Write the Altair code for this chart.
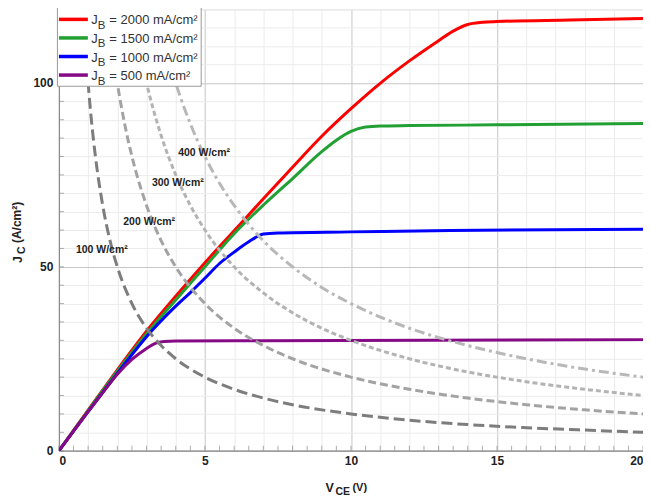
import altair as alt
import pandas as pd

# ---------------- data ----------------
V_2000 = [0, 1, 2, 3, 4, 5, 6, 7, 8, 9, 10, 11, 12, 13, 13.5, 14, 14.5, 15, 17.5, 20]
J_2000 = [0, 11, 22, 32.5, 42, 51.1, 59.8, 68.5, 77.1, 85.5, 93, 99.9, 106, 111.5, 114.1, 115.9, 116.5, 116.7, 117.1, 117.5]

V_1500 = [0, 1, 2, 3, 4, 5, 6, 7, 8, 9, 9.5, 10, 10.5, 11, 12, 15, 20]
J_1500 = [0, 10.9, 21.6, 31.8, 41, 50, 59, 66.8, 74, 81.3, 84.4, 86.8, 88, 88.3, 88.4, 88.6, 89]

V_1000 = [0, 1, 2, 3, 4, 4.5, 5, 5.5, 6, 6.5, 7, 7.5, 10, 13.4, 20]
J_1000 = [0, 10.6, 21, 31, 39.3, 43, 46.9, 50.9, 54, 56.8, 58.9, 59.2, 59.5, 59.9, 60.2]

V_500 = [0, 1, 1.5, 2, 2.5, 3, 3.3, 3.6, 4, 7, 20]
J_500 = [0, 10.6, 15.8, 20.8, 24.8, 27.8, 29.2, 29.7, 29.8, 29.9, 30.2]

SERIES = ["2000", "1500", "1000", "500"]
SERIES_COLORS = ["#ff0000", "#22a033", "#0000ff", "#860a86"]

# constant power hyperbolas (W/cm²)
V_P100 = [0.82, 0.9, 1, 1.1, 1.25, 1.5, 1.75, 2, 2.5, 3, 3.5, 4, 5, 6, 7, 8, 10, 12, 14, 16, 18, 20]
J_P100 = [122, 111.1, 100, 90.9, 80, 66.7, 57.1, 50, 40, 33.3, 28.6, 25, 20, 16.7, 14.3, 12.5, 10, 8.3, 7.1, 6.25, 5.6, 5]
V_P200 = [1.65, 1.8, 2, 2.25, 2.5, 3, 3.5, 4, 5, 6, 7, 8, 10, 12, 14, 16, 18, 20]
J_P200 = [121.2, 111.1, 100, 88.9, 80, 66.7, 57.1, 50, 40, 33.3, 28.6, 25, 20, 16.7, 14.3, 12.5, 11.1, 10]
V_P300 = [2.5, 2.75, 3, 3.5, 4, 4.5, 5, 6, 7, 8, 9, 10, 12, 14, 16, 18, 20]
J_P300 = [120, 109.1, 100, 85.7, 75, 66.7, 60, 50, 42.9, 37.5, 33.3, 30, 25, 21.4, 18.75, 16.7, 15]
V_P400 = [3.3, 3.5, 3.75, 4, 4.5, 5, 5.5, 6, 7, 8, 9, 10, 12, 14, 16, 18, 20]
J_P400 = [121.2, 114.3, 106.7, 100, 88.9, 80, 72.7, 66.7, 57.1, 50, 44.4, 40, 33.3, 28.6, 25, 22.2, 20]

POWER_LABELS = ["100 W/cm²", "200 W/cm²", "300 W/cm²", "400 W/cm²"]
POWER_LABEL_V = [1.47, 3.09, 4.07, 4.97]
POWER_LABEL_J = [54.7, 62.3, 72.9, 81.0]

X_TICKS = [i * 0.5 for i in range(41)]
Y_TICKS = [i * 5 for i in range(25)]

# ---------------- build tables ----------------
curves = []
for name, vs, js in zip(SERIES, [V_2000, V_1500, V_1000, V_500], [J_2000, J_1500, J_1000, J_500]):
    for i, (v, j) in enumerate(zip(vs, js)):
        curves.append({"series": name, "V": v, "J": j, "i": i})
curves_df = pd.DataFrame(curves)

power_sets = [(V_P100, J_P100), (V_P200, J_P200), (V_P300, J_P300), (V_P400, J_P400)]
power_styles = [
    {"color": "#7d7d7d", "dash": [11, 5]},
    {"color": "#a3a3a3", "dash": [8, 4]},
    {"color": "#b3b3b3", "dash": [5, 3]},
    {"color": "#b8b8b8", "dash": [10, 4, 3, 4]},
]

legend_df = pd.DataFrame({
    "row": list(range(len(SERIES))),
    "label": ["= " + s + " mA/cm²" for s in SERIES],
    "col": SERIES_COLORS,
})

labels_df = pd.DataFrame({"V": POWER_LABEL_V, "J": POWER_LABEL_J, "t": POWER_LABELS})
xt_df = pd.DataFrame({"V": X_TICKS})
yt_df = pd.DataFrame({"J": Y_TICKS})

FONT = "Liberation Sans"

x_scale = alt.Scale(domain=[0, 20], nice=False, zero=False)
y_scale = alt.Scale(domain=[0, 120], nice=False)

x_axis = alt.Axis(
    values=X_TICKS, title=None, grid=True, format="d",
    gridColor={"condition": {"test": "datum.value % 5 === 0", "value": "#c6c6c6"}, "value": "#ececec"},
    gridWidth=1, tickSize=0, domainColor="#8a8a8a", domainWidth=1.2,
    labelExpr="datum.value % 5 === 0 ? datum.label : ''", labelOverlap=False,
    labelFont=FONT, labelFontWeight="bold", labelFontSize=12, labelColor="#222222", labelPadding=5,
)
y_axis = alt.Axis(
    values=Y_TICKS, title=None, grid=True, format="d",
    gridColor={"condition": {"test": "datum.value % 50 === 0", "value": "#c6c6c6"}, "value": "#ececec"},
    gridWidth=1, tickSize=0, domainColor="#8a8a8a", domainWidth=1.2,
    labelExpr="datum.value % 50 === 0 ? datum.label : ''", labelOverlap=False,
    labelFont=FONT, labelFontWeight="bold", labelFontSize=12, labelColor="#222222", labelPadding=6,
)

def X(field="V:Q"):
    return alt.X(field, scale=x_scale, axis=x_axis)

def Y(field="J:Q"):
    return alt.Y(field, scale=y_scale, axis=y_axis)

x_ticks = alt.Chart(xt_df).mark_tick(size=5, thickness=1, color="#8a8a8a").encode(
    x=X(), y=alt.value(439.5)
)
y_ticks = alt.Chart(yt_df).mark_tick(size=5, thickness=1, color="#8a8a8a").encode(
    y=Y(), x=alt.value(2.5)
)

lines = alt.Chart(curves_df).mark_line(strokeWidth=3, clip=True, interpolate="monotone").encode(
    x=X(),
    y=Y(),
    color=alt.Color("series:N", scale=alt.Scale(domain=SERIES, range=SERIES_COLORS), legend=None),
    order="i:Q",
)

power_layers = []
for (vs, js), st in zip(power_sets, power_styles):
    pdf = pd.DataFrame({"V": vs, "J": js})
    power_layers.append(
        alt.Chart(pdf).mark_line(strokeWidth=3, clip=True, color=st["color"], strokeDash=st["dash"],
                                 interpolate="monotone").encode(x=X(), y=Y())
    )

power_text = alt.Chart(labels_df).mark_text(font=FONT, fontWeight="bold", fontSize=10.5, color="#222222").encode(
    x=X(), y=Y(), text="t:N"
)

# legend drawn inside the plot (top-left)
legend_box = alt.Chart(pd.DataFrame({"a": [0]})).mark_rect(fill="white", stroke="#9a9a9a", strokeWidth=1).encode(
    x=alt.value(-1.5), x2=alt.value(142.5), y=alt.value(-2), y2=alt.value(77)
)
leg = alt.Chart(legend_df).transform_calculate(
    ly="10 + datum.row * 18.6", lt="15 + datum.row * 18.6", ls="19.5 + datum.row * 18.6"
)
legend_lines = leg.mark_rule(strokeWidth=3.5).encode(
    x=alt.value(0), x2=alt.value(29), y=alt.Y("ly:Q", scale=None, axis=None), color=alt.Color("col:N", scale=None)
)
legend_j = leg.mark_text(align="left", baseline="alphabetic", font=FONT, fontSize=13, color="#333333").encode(
    x=alt.value(32.5), y=alt.Y("lt:Q", scale=None, axis=None), text=alt.value("J")
)
legend_b = leg.mark_text(align="left", baseline="alphabetic", font=FONT, fontSize=11.5, color="#333333").encode(
    x=alt.value(38.8), y=alt.Y("ls:Q", scale=None, axis=None), text=alt.value("B")
)
legend_t = leg.mark_text(align="left", baseline="alphabetic", font=FONT, fontSize=13, color="#333333").encode(
    x=alt.value(50.5), y=alt.Y("lt:Q", scale=None, axis=None), text="label:N"
)

# axis titles with subscripts
one = pd.DataFrame({"a": [0]})
def txt(s, x, y, size, angle=0):
    return alt.Chart(one).mark_text(align="left", baseline="alphabetic", font=FONT, fontWeight="bold",
                                    fontSize=size, color="#222222", angle=angle).encode(
        x=alt.value(x), y=alt.value(y), text=alt.value(s)
    )

x_title = [txt("V", 267, 483, 12.5), txt("CE", 277, 486.5, 10.5), txt("(V)", 294, 482, 11)]
y_title = [txt("J", -37, 254, 12.5, 270), txt("C", -34, 245, 10.5, 270), txt("(A/cm²)", -37.5, 234, 12, 270)]

chart = alt.layer(
    x_ticks, y_ticks, lines, *power_layers, power_text,
    legend_box, legend_lines, legend_j, legend_b, legend_t,
    *x_title, *y_title,
).properties(
    width=585, height=442,
    autosize=alt.AutoSizeParams(type="none"),
    padding={"left": 51, "top": 1, "right": 0, "bottom": 46},
).configure_view(stroke="#c4c4c4", strokeWidth=1).configure(background="white")

chart.save("out.html", embed_options={"renderer": "svg", "actions": False})
